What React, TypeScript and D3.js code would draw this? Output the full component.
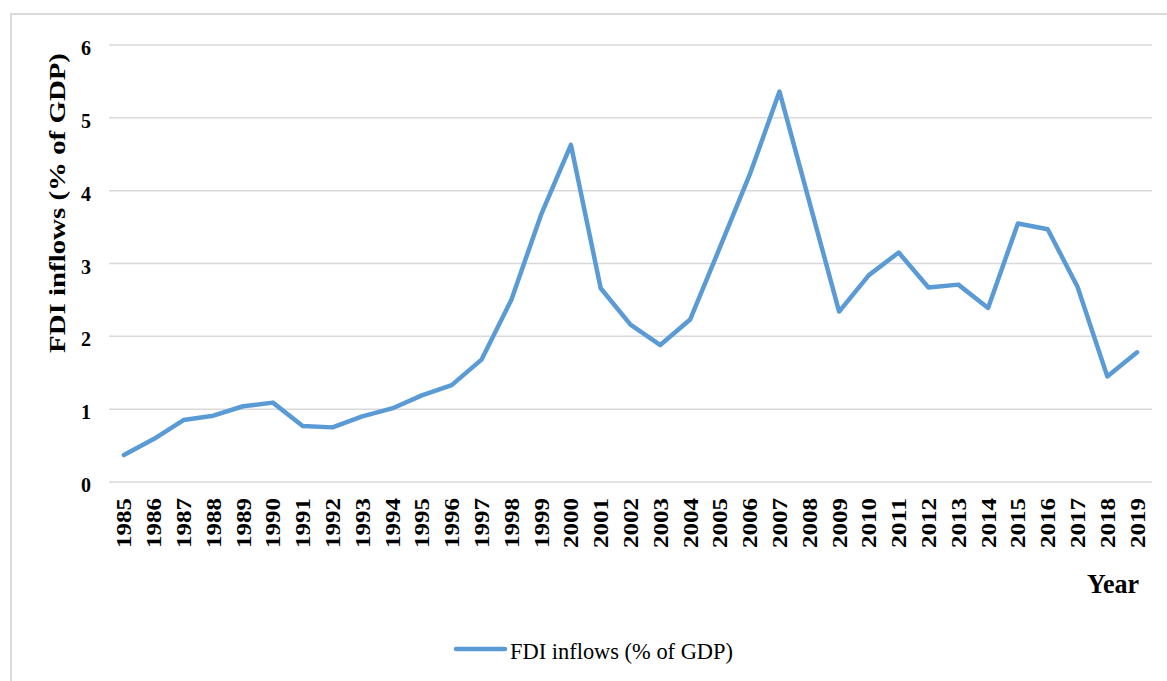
import React from 'react';
import * as d3 from 'd3';

// FDI inflows, % of GDP
const years = [
  '1985', '1986', '1987', '1988', '1989', '1990', '1991', '1992', '1993', '1994',
  '1995', '1996', '1997', '1998', '1999', '2000', '2001', '2002', '2003', '2004',
  '2005', '2006', '2007', '2008', '2009', '2010', '2011', '2012', '2013', '2014',
  '2015', '2016', '2017', '2018', '2019'
];
const fdi = [
  0.37, 0.59, 0.85, 0.91, 1.04, 1.09, 0.77, 0.75, 0.90, 1.01,
  1.19, 1.33, 1.68, 2.50, 3.67, 4.63, 2.66, 2.16, 1.88, 2.23,
  3.22, 4.22, 5.36, 3.85, 2.34, 2.84, 3.15, 2.67, 2.71, 2.39,
  3.55, 3.47, 2.68, 1.45, 1.78
];
const yTicks = [0, 1, 2, 3, 4, 5, 6];
const seriesName = 'FDI inflows (% of GDP)';
const yTitle = 'FDI inflows  (% of GDP)';
const xTitle = 'Year';

const W = 1167, H = 681;
const plot = {left: 109, right: 1152, top: 45, bottom: 482};
const blue = '#5B9BD5';
const grid = '#d9d9d9';
const font = 'Liberation Serif, Times New Roman, DejaVu Serif, serif';

export default function App() {
  const x = d3.scaleBand().domain(years).range([plot.left, plot.right]);
  const y = d3.scaleLinear().domain([0, 6]).range([plot.bottom, plot.top]);
  const cx = (d: string) => (x(d) as number) + x.bandwidth() / 2;

  const line = d3.line<number>()
    .x((d, i) => cx(years[i]))
    .y(d => y(d));

  const txt = {fontFamily: font};

  return (
    <svg width={W} height={H} style={{position: 'absolute', left: 0, top: 0, background: '#fff', fontFamily: font}}>
      {/* outer chart border, runs off the right and bottom */}
      <rect x={11} y={14} width={W + 20} height={H + 20} fill="none" stroke={grid} strokeWidth={2} />

      {yTicks.map(t => (
        <g key={t}>
          <line x1={plot.left} x2={plot.right} y1={y(t)} y2={y(t)} stroke={grid} strokeWidth={1.5} />
          <text x={91} y={y(t) + 3} textAnchor="end" dominantBaseline="central" fontSize={20} fontWeight="bold" style={txt}>{t}</text>
        </g>
      ))}

      {years.map(d => (
        <text key={d} transform={`translate(${cx(d)},498) rotate(-90)`} textAnchor="end" dominantBaseline="central"
          fontSize={22} fontWeight="bold" textLength={50} lengthAdjust="spacingAndGlyphs" style={txt}>{d}</text>
      ))}

      <text transform="translate(57,203) rotate(-90)" textAnchor="middle" dominantBaseline="central"
        fontSize={24} fontWeight="bold" textLength={300} lengthAdjust="spacingAndGlyphs" style={txt}>{yTitle}</text>

      <text x={1087} y={593} fontSize={28} fontWeight="bold" textLength={52} lengthAdjust="spacingAndGlyphs" style={txt}>{xTitle}</text>

      <path d={line(fdi) || ''} fill="none" stroke={blue} strokeWidth={4.5} strokeLinejoin="round" strokeLinecap="round" />

      {/* legend */}
      <line x1={456} x2={505} y1={649} y2={649} stroke={blue} strokeWidth={4.5} strokeLinecap="round" />
      <text x={510} y={659} fontSize={24} textLength={223} lengthAdjust="spacingAndGlyphs" style={txt}>{seriesName}</text>
    </svg>
  );
}
